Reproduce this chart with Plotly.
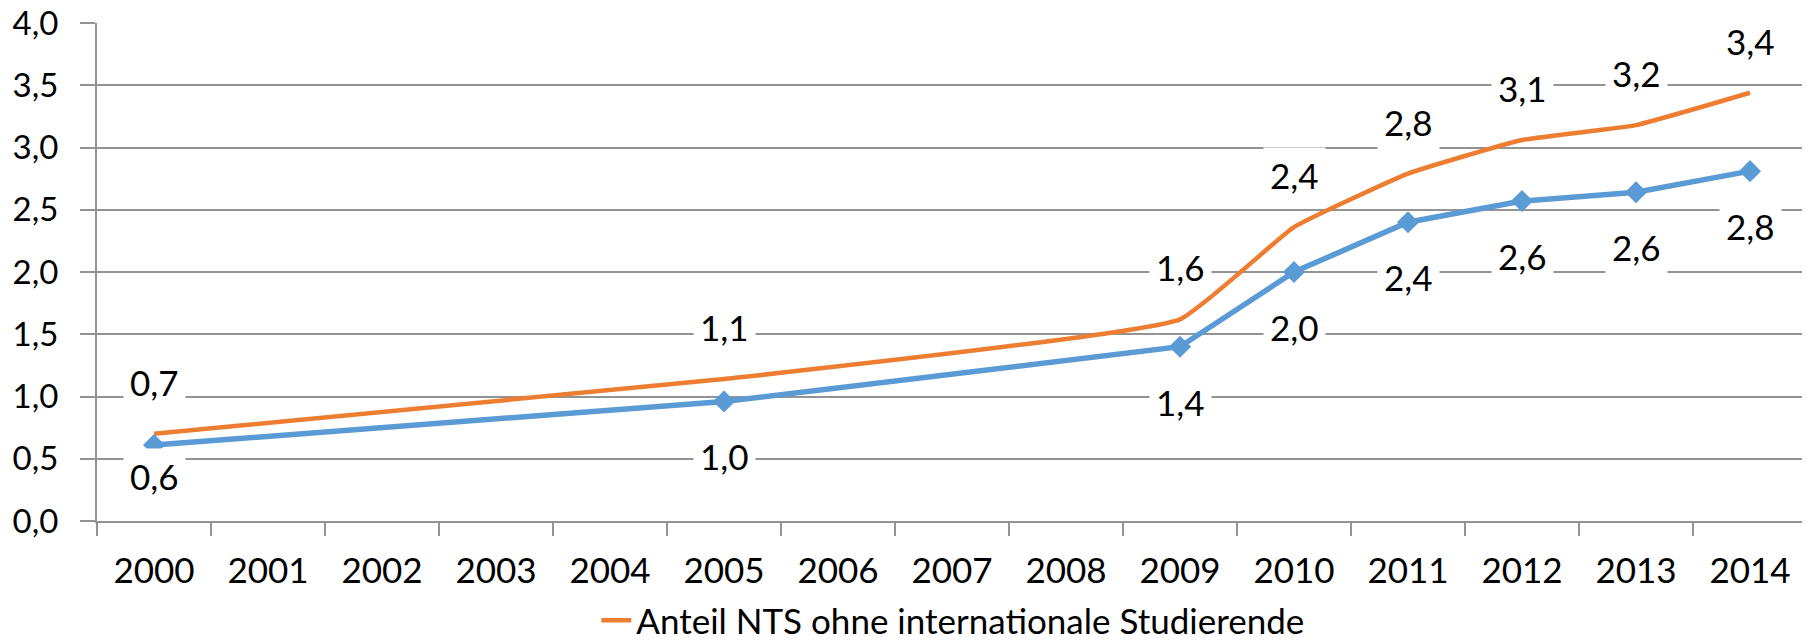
import plotly.graph_objects as go

years = list(range(2000, 2015))
data_years = [2000, 2005, 2009, 2010, 2011, 2012, 2013, 2014]
orange_vals = [0.70, 1.14, 1.62, 2.36, 2.79, 3.06, 3.18, 3.44]
blue_vals = [0.61, 0.96, 1.40, 2.00, 2.40, 2.57, 2.64, 2.81]
orange_name = "Anteil NTS ohne internationale Studierende"
blue_name = "Anteil NTS"
y_ticks = [0, 0.5, 1.0, 1.5, 2.0, 2.5, 3.0, 3.5, 4.0]

ORANGE = "#ED7D31"
BLUE = "#5B9BD5"
GRID = "#939393"
FONT = "Lato"
TICK_FS = 35
YTICK_FS = 33
LABEL_FS = 35
LEGEND_FS = 35

def fmt(v):
    return f"{v:.1f}".replace(".", ",")

fig = go.Figure()
fig.add_trace(go.Scatter(
    x=data_years, y=orange_vals, mode="lines", name=orange_name,
    line=dict(color=ORANGE, width=4.5, shape="spline", smoothing=0.35),
    showlegend=True,
))
fig.add_trace(go.Scatter(
    x=data_years, y=blue_vals, mode="lines+markers", name=blue_name,
    line=dict(color=BLUE, width=5.5),
    marker=dict(symbol="diamond", size=17, color=BLUE),
    showlegend=False,
))

annotations = []
for x, v in zip(data_years, orange_vals):
    annotations.append(dict(x=x, y=v, xref="x", yref="y", text=fmt(v),
                            showarrow=False, yshift=52, bgcolor="white",
                            borderpad=6, font=dict(family=FONT, size=LABEL_FS, color="black")))
blue_shift = {2000: -31}
for x, v in zip(data_years, blue_vals):
    annotations.append(dict(x=x, y=v, xref="x", yref="y", text=fmt(v),
                            showarrow=False, yshift=blue_shift.get(x, -55), bgcolor="white",
                            borderpad=6, font=dict(family=FONT, size=LABEL_FS, color="black")))

boundaries = [y - 0.5 for y in years] + [years[-1] + 0.5]

# the page body adds an 8px offset; the figure size compensates for it
fig.update_layout(
    width=1802, height=632,
    margin=dict(l=89, r=3, t=15, b=119, autoexpand=False),
    paper_bgcolor="white", plot_bgcolor="white",
    separators=",.",
    font=dict(family=FONT, size=TICK_FS, color="black"),
    annotations=annotations,
    legend=dict(orientation="h", x=0.292, xanchor="left",
                y=-0.2, yanchor="middle", font=dict(family=FONT, size=LEGEND_FS, color="black"),
                bgcolor="rgba(0,0,0,0)"),
    xaxis=dict(range=[years[0] - 0.5, years[-1] + 0.5], tickvals=years,
               ticktext=[str(y) for y in years], automargin=False,
               ticks="", showline=True, linecolor=GRID, linewidth=2, showgrid=False,
               zeroline=False,
               minor=dict(tickvals=boundaries, ticks="outside", ticklen=13,
                          tickcolor=GRID, tickwidth=2, showgrid=False),
               tickfont=dict(family=FONT, size=TICK_FS, color="black"), ticklabelstandoff=18),
    yaxis=dict(range=[0, 4], tickvals=y_ticks, tickformat=".1f", automargin=False,
               ticks="outside", ticklen=15, tickcolor=GRID, tickwidth=2,
               showline=True, linecolor=GRID, linewidth=2,
               showgrid=True, gridcolor=GRID, gridwidth=2, zeroline=False,
               ticklabeloverflow="allow",
               tickfont=dict(family=FONT, size=YTICK_FS, color="black"), ticklabelstandoff=15),
)

fig.write_html("out.html")
